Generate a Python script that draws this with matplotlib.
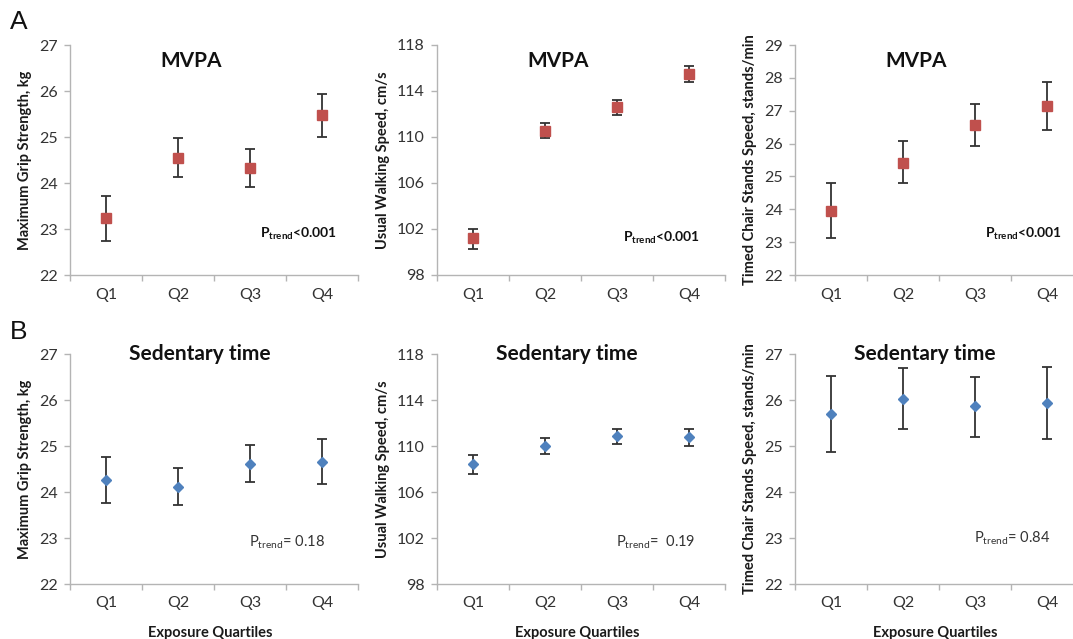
import matplotlib
matplotlib.use("Agg")
import matplotlib.pyplot as plt
import numpy as np

plt.rcParams['font.family'] = ['Lato', 'DejaVu Sans']
plt.rcParams['mathtext.fontset'] = 'custom'
plt.rcParams['mathtext.rm'] = 'Lato'
plt.rcParams['mathtext.it'] = 'Lato'
plt.rcParams['mathtext.bf'] = 'Lato:bold'

quartiles = ["Q1", "Q2", "Q3", "Q4"]

# Row A: MVPA (mean, lower CI, upper CI)
mvpa_grip = [23.24, 24.55, 24.32, 25.47]
mvpa_grip_lo = [22.75, 24.14, 23.91, 25.00]
mvpa_grip_hi = [23.72, 24.97, 24.73, 25.94]

mvpa_walk = [101.2, 110.5, 112.6, 115.5]
mvpa_walk_lo = [100.3, 109.9, 111.9, 114.8]
mvpa_walk_hi = [102.0, 111.2, 113.2, 116.2]

mvpa_chair = [23.95, 25.42, 26.56, 27.13]
mvpa_chair_lo = [23.14, 24.79, 25.92, 26.42]
mvpa_chair_hi = [24.80, 26.07, 27.21, 27.88]

# Row B: Sedentary time
sed_grip = [24.26, 24.11, 24.61, 24.65]
sed_grip_lo = [23.76, 23.71, 24.21, 24.17]
sed_grip_hi = [24.76, 24.52, 25.02, 25.15]

sed_walk = [108.4, 110.0, 110.9, 110.8]
sed_walk_lo = [107.6, 109.3, 110.2, 110.0]
sed_walk_hi = [109.2, 110.7, 111.5, 111.5]

sed_chair = [25.70, 26.03, 25.86, 25.94]
sed_chair_lo = [24.87, 25.37, 25.20, 25.15]
sed_chair_hi = [26.53, 26.69, 26.51, 26.72]

ylabels = ["Maximum Grip Strength, kg", "Usual Walking Speed, cm/s",
           "Timed Chair Stands Speed, stands/min"]
ylims_A = [(22, 27, [22, 23, 24, 25, 26, 27]),
           (98, 118, [98, 102, 106, 110, 114, 118]),
           (22, 29, [22, 23, 24, 25, 26, 27, 28, 29])]
ylims_B = [(22, 27, [22, 23, 24, 25, 26, 27]),
           (98, 118, [98, 102, 106, 110, 114, 118]),
           (22, 27, [22, 23, 24, 25, 26, 27])]
ptrend_A = ["<0.001", "<0.001", "<0.001"]
ptrend_B = ["= 0.18", "=  0.19", "= 0.84"]

W, H = 1073, 639
fig = plt.figure(figsize=(W / 100, H / 100), dpi=100)

lefts = [70, 437, 795]
aw = 288
rows = [(45, 275), (354, 584)]

red = "#c0504d"
blue = "#4f81bd"
spine_c = "#b4b4b4"
tick_c = "#333333"
err_c = "#333333"

data_A = [(mvpa_grip, mvpa_grip_lo, mvpa_grip_hi),
          (mvpa_walk, mvpa_walk_lo, mvpa_walk_hi),
          (mvpa_chair, mvpa_chair_lo, mvpa_chair_hi)]
data_B = [(sed_grip, sed_grip_lo, sed_grip_hi),
          (sed_walk, sed_walk_lo, sed_walk_hi),
          (sed_chair, sed_chair_lo, sed_chair_hi)]


def make_ax(left, top, bottom):
    return fig.add_axes([left / W, 1 - bottom / H, aw / W, (bottom - top) / H])


x = np.arange(len(quartiles))

for r, (data, ylims, title, ptr, color, marker, ms, pbold, txy, ptxy) in enumerate([
        (data_A, ylims_A, "MVPA", ptrend_A, red, "s", 7.2, True, (0.42, 0.93), [(0.66, 0.18), (0.645, 0.16), (0.66, 0.18)]),
        (data_B, ylims_B, "Sedentary time", ptrend_B, blue, "D", 5.0, False, (0.45, 1.0), [(0.62, 0.18), (0.62, 0.18), (0.62, 0.2)])]):
    top, bottom = rows[r]
    for c in range(3):
        ax = make_ax(lefts[c], top, bottom)
        mean, lo, hi = data[c]
        mean = np.array(mean); lo = np.array(lo); hi = np.array(hi)
        ax.errorbar(x, mean, yerr=[mean - lo, hi - mean], fmt="none",
                    ecolor=err_c, elinewidth=1.3, capsize=3.5, capthick=1.3, zorder=2)
        ax.plot(x, mean, linestyle="none", marker=marker, markersize=ms,
                color=color, markeredgecolor=color, zorder=3)
        ymin, ymax, yt = ylims[c]
        ax.set_ylim(ymin, ymax)
        ax.set_yticks(yt)
        ax.set_xlim(-0.5, 3.5)
        ax.set_xticks(x)
        ax.set_xticklabels(quartiles)
        ax.set_xticks(np.arange(-0.5, 4.0, 1.0), minor=True)
        ax.tick_params(axis="x", which="major", length=0, labelsize=11.5,
                       labelcolor=tick_c, pad=9)
        ax.tick_params(axis="x", which="minor", length=4, color=spine_c, width=1)
        ax.tick_params(axis="y", length=4, color=spine_c, width=1, labelsize=11.5,
                       labelcolor=tick_c, pad=5)
        for s in ["top", "right"]:
            ax.spines[s].set_visible(False)
        for s in ["left", "bottom"]:
            ax.spines[s].set_color(spine_c)
            ax.spines[s].set_linewidth(1.0)
        ax.set_ylabel(ylabels[c], fontsize=10.5, fontweight="bold", color="#1a1a1a",
                      labelpad=5)
        ax.text(txy[0], txy[1], title, transform=ax.transAxes, ha="center", va="center",
                fontsize=15, fontweight="bold", color="#111111")
        if pbold:
            s = r"$\mathbf{P}_{\mathbf{trend}}$" + ptr[c]
            ax.text(ptxy[c][0], ptxy[c][1], s, transform=ax.transAxes, ha="left",
                    va="center", fontsize=10, fontweight="bold", color="#111111")
        else:
            s = r"$\mathrm{P}_{\mathrm{trend}}$" + ptr[c]
            ax.text(ptxy[c][0], ptxy[c][1], s, transform=ax.transAxes, ha="left",
                    va="center", fontsize=10.5, color="#333333")
        if r == 1:
            cx = (lefts[c] + aw / 2 - 4) / W
            fig.text(cx, 1 - 633 / H, "Exposure Quartiles", ha="center", va="center",
                     fontsize=10.5, fontweight="bold", color="#1a1a1a")

fig.text(10 / W, 1 - 22 / H, "A", fontsize=19, family="Liberation Sans",
         ha="left", va="center", color="#111111")
fig.text(10 / W, 1 - 332 / H, "B", fontsize=19, family="Liberation Sans",
         ha="left", va="center", color="#111111")

fig.savefig("out.png", dpi=100)
